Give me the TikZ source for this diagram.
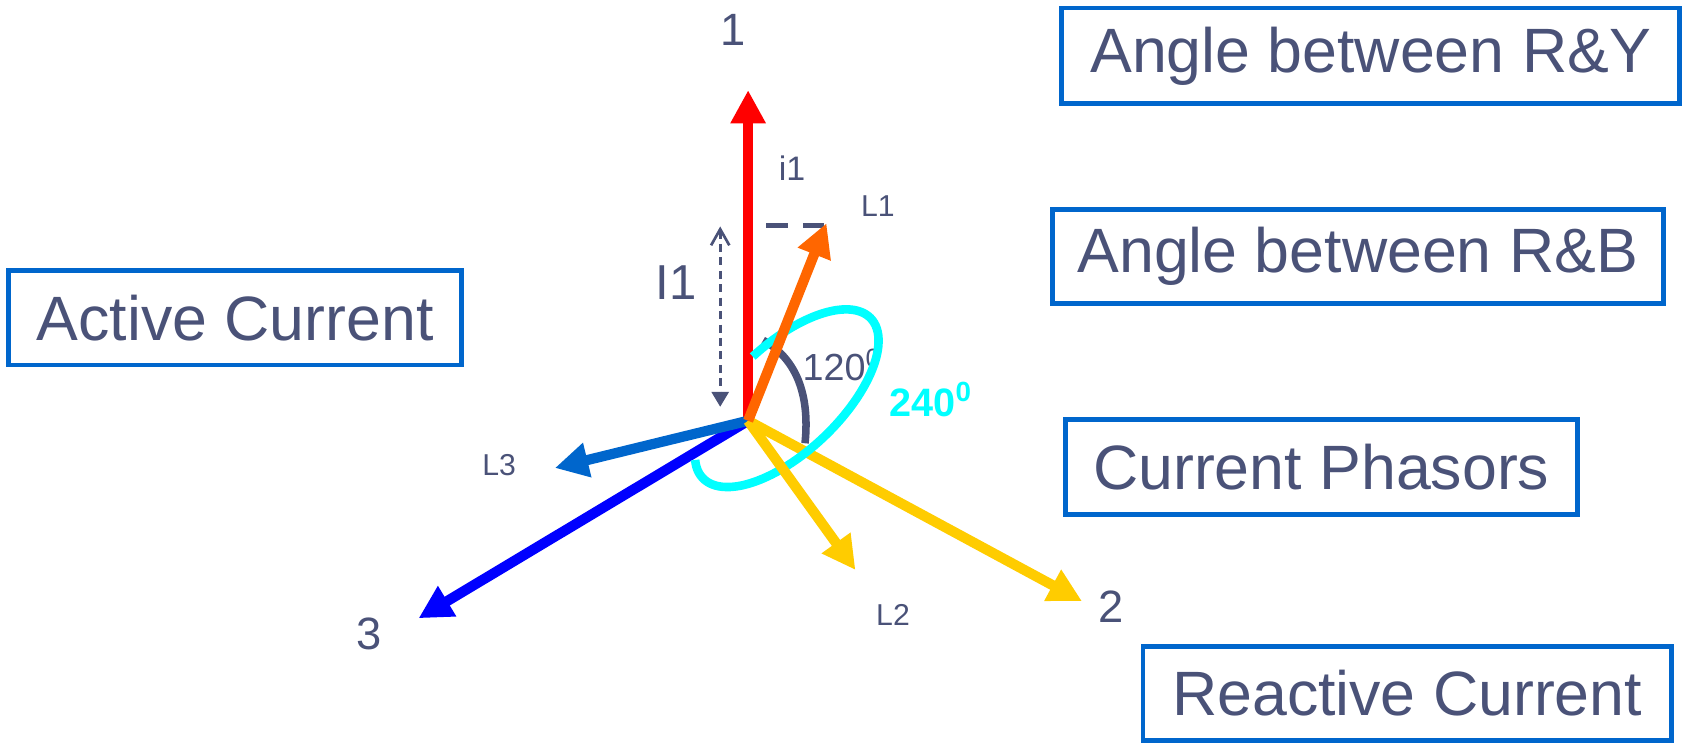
\documentclass[tikz,border=0pt]{standalone}
\usepackage{fontspec}
\setmainfont{Liberation Sans}
\usetikzlibrary{arrows.meta, positioning}
\definecolor{txt}{RGB}{74,82,120}
\definecolor{boxblue}{RGB}{0,102,204}
\definecolor{phorange}{RGB}{255,102,0}
\definecolor{phyellow}{RGB}{255,204,0}
\definecolor{phcyan}{RGB}{0,255,255}

\begin{document}
\begin{tikzpicture}[x=0.01cm, y=-0.01cm,
                box/.style={draw=boxblue, line width=0.045cm, text=txt, inner sep=0pt,
                    font=\fontsize{16.6pt}{20pt}\selectfont},
                num/.style={text=txt, inner sep=0pt, font=\fontsize{12pt}{14pt}\selectfont},
                tag/.style={text=txt, inner sep=0pt, font=\fontsize{8pt}{10pt}\selectfont},
                phasor/.style={line width=0.095cm, -{Triangle[length=0.31cm, width=0.31cm]}}]
                \useasboundingbox (0,0) rectangle (1568,694);
                % text boxes
                \node[box, minimum width=5.75cm, minimum height=0.89cm] (ry) at (1277,52) {Angle between R\&Y};
                \node[box, minimum width=5.69cm, minimum height=0.88cm] (rb) at (1265,239) {Angle between R\&B};
                \node[box, minimum width=4.22cm, minimum height=0.88cm] (act) at (219,296) {Active Current};
                \node[box, minimum width=4.77cm, minimum height=0.89cm] (phas) at (1231,435) {Current Phasors};
                \node[box, minimum width=4.92cm, minimum height=0.87cm] (react) at (1311,646) {Reactive Current};
                % phasor ends
                \coordinate (o) at (697,392);
                \coordinate (t1) at (697,84);
                \coordinate (t2) at (1008,560);
                \coordinate (t3) at (390,576);
                \coordinate (tl1) at (770,208);
                \coordinate (tl2) at (797,531);
                \coordinate (tl3) at (517,436);
                \coordinate (d0) at (697,210);
                \coordinate (d1) at (770,210);
                \coordinate (m0) at (671,211);
                \coordinate (m1) at (671,379);
                % labels
                \node[num] (n1) at (683,28) {1};
                \node[num] (n2) at (1035,565) {2};
                \node[num] (n3) at (344,591) {3};
                \node[num, font=\fontsize{13pt}{15pt}\selectfont] (bigi) at (630,263) {I1};
                \node[tag, font=\fontsize{9pt}{11pt}\selectfont] (i1) at (738,157) {i1};
                \node[tag] (l1) at (818,192) {L1};
                \node[tag] (l2) at (832,573) {L2};
                \node[tag] (l3) at (465,433) {L3};
                % projection of L1
                \draw[txt, line width=0.045cm, dash pattern=on 0.2cm off 0.14cm, dash phase=0.17cm] (d0) -- (d1);
                \draw[txt, line width=0.025cm, dash pattern=on 0.075cm off 0.05cm,
                    {Straight Barb[length=0.15cm, width=0.17cm]}-{Triangle[length=0.14cm, width=0.16cm]}] (m0) -- (m1);
                % phasors
                \draw[phasor, red] (o) -- (t1);
                \draw[phasor, blue] (o) -- (t3);
                \draw[phasor, boxblue] (o) -- (tl3);
                % angles
                \draw[txt, line width=0.07cm] (711,317) .. controls (740,333) and (755,365) .. (750,413);
                \node[tag, anchor=west, font=\fontsize{10pt}{12pt}\selectfont] (a120) at (747,340) {120\textsuperscript{0}};
                \draw[phasor, phyellow] (o) -- (t2);
                \draw[phcyan, line width=0.08cm] plot[domain=-88:200, samples=90, smooth]
                    ({733+108*cos(\x)*0.725+50*sin(\x)*0.689}, {371-108*cos(\x)*0.689+50*sin(\x)*0.725});
                \node[tag, anchor=west, text=phcyan, font=\fontsize{10.5pt}{12pt}\bfseries] (a240) at (828,372) {240\textsuperscript{0}};
                \draw[phasor, phyellow] (o) -- (tl2);
                \draw[phasor, phorange] (o) -- (tl1);
            \end{tikzpicture}
\end{document}
